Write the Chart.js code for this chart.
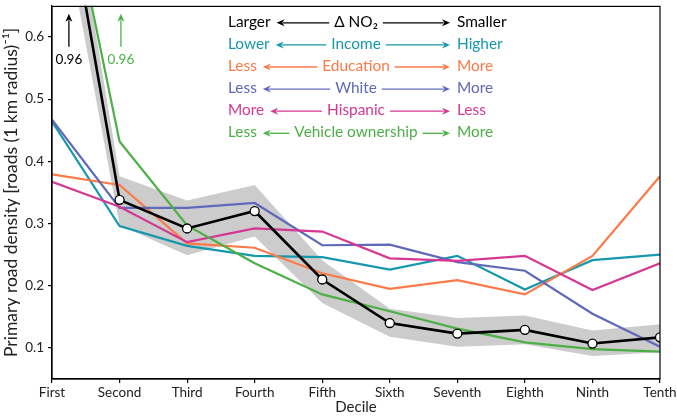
<!DOCTYPE html>
<html>
<head>
<meta charset="utf-8">
<script src="https://cdn.jsdelivr.net/npm/chart.js@4"></script>
<style>
  body { margin: 0; background: #fff; }
  canvas { display: block; }
</style>
</head>
<body>
<canvas id="c" width="677" height="417"></canvas>
<script>
var deciles = ['First', 'Second', 'Third', 'Fourth', 'Fifth', 'Sixth', 'Seventh', 'Eighth', 'Ninth', 'Tenth'];
var yTicks = [0.1, 0.2, 0.3, 0.4, 0.5, 0.6];

// mean density (black) and its confidence band
var meanDensity = [0.96, 0.338, 0.292, 0.320, 0.210, 0.140, 0.123, 0.129, 0.107, 0.117];
var bandLower = [0.88, 0.297, 0.249, 0.279, 0.172, 0.118, 0.102, 0.106, 0.087, 0.093];
var bandUpper = [1.03, 0.376, 0.337, 0.362, 0.241, 0.163, 0.148, 0.152, 0.128, 0.138];

var income = [0.464, 0.296, 0.264, 0.248, 0.246, 0.226, 0.248, 0.194, 0.241, 0.250];
var education = [0.379, 0.362, 0.268, 0.261, 0.220, 0.195, 0.209, 0.186, 0.248, 0.376];
var white = [0.467, 0.325, 0.325, 0.333, 0.265, 0.266, 0.238, 0.224, 0.155, 0.102];
var hispanic = [0.367, 0.327, 0.270, 0.292, 0.287, 0.244, 0.240, 0.248, 0.193, 0.236];
var vehicle = [0.96, 0.432, 0.297, 0.236, 0.186, 0.159, 0.131, 0.109, 0.098, 0.094];

var BLACK = '#000000';
var TEAL = 'rgb(22,152,172)';
var ORANGE = 'rgb(252,122,72)';
var BLUE = 'rgb(96,104,186)';
var PINK = 'rgb(212,56,146)';
var GREEN = 'rgb(76,176,70)';

var legendRows = [
  { left: 'Larger', mid: 'Δ NO₂', right: 'Smaller', color: BLACK },
  { left: 'Lower', mid: 'Income', right: 'Higher', color: TEAL },
  { left: 'Less', mid: 'Education', right: 'More', color: ORANGE },
  { left: 'Less', mid: 'White', right: 'More', color: BLUE },
  { left: 'More', mid: 'Hispanic', right: 'Less', color: PINK },
  { left: 'Less', mid: 'Vehicle ownership', right: 'More', color: GREEN }
];

var FONT = 'Lato, "Open Sans", sans-serif';

function arrow(ctx, x1, y1, x2, y2, color) {
  // line from (x1,y1) to (x2,y2) with head at (x2,y2)
  var ang = Math.atan2(y2 - y1, x2 - x1);
  var hl = 8, hw = 3.5;
  ctx.strokeStyle = color;
  ctx.fillStyle = color;
  ctx.lineWidth = 1.3;
  ctx.beginPath();
  ctx.moveTo(x1, y1);
  ctx.lineTo(x2 - Math.cos(ang) * hl * 0.8, y2 - Math.sin(ang) * hl * 0.8);
  ctx.stroke();
  ctx.beginPath();
  ctx.moveTo(x2, y2);
  ctx.lineTo(x2 - Math.cos(ang) * hl - Math.sin(ang) * hw, y2 - Math.sin(ang) * hl + Math.cos(ang) * hw);
  ctx.lineTo(x2 - Math.cos(ang) * hl * 0.7, y2 - Math.sin(ang) * hl * 0.7);
  ctx.lineTo(x2 - Math.cos(ang) * hl + Math.sin(ang) * hw, y2 - Math.sin(ang) * hl - Math.cos(ang) * hw);
  ctx.closePath();
  ctx.fill();
}

var annotations = {
  id: 'annotations',
  afterDraw: function(chart) {
    var ctx = chart.ctx;
    var a = chart.chartArea;
    var xs = chart.scales.x;
    var step = xs.getPixelForValue(1) - xs.getPixelForValue(0);
    ctx.save();

    // frame
    ctx.strokeStyle = '#000';
    ctx.lineWidth = 1.2;
    ctx.strokeRect(a.left, a.top + 0.6, a.right - a.left, a.bottom - a.top - 0.6);

    // off-scale markers
    var offs = [{ pos: 0.25, color: BLACK }, { pos: 1.02, color: GREEN }];
    ctx.font = '13.5px ' + FONT;
    ctx.textAlign = 'center';
    ctx.textBaseline = 'middle';
    offs.forEach(function(o) {
      var x = xs.getPixelForValue(0) + o.pos * step;
      arrow(ctx, x, a.top + 41, x, a.top + 8, o.color);
      ctx.fillStyle = o.color;
      ctx.fillText('0.96', x, a.top + 54);
    });

    // text legend with arrows
    var leftX = a.left + 176, midX = a.left + 304, rightX = a.left + 405;
    ctx.font = '15.4px ' + FONT;
    legendRows.forEach(function(r, i) {
      var y = a.top + 16 + i * 22.1;
      ctx.fillStyle = r.color;
      ctx.textAlign = 'left';
      ctx.fillText(r.left, leftX, y);
      ctx.fillText(r.right, rightX, y);
      ctx.textAlign = 'center';
      ctx.fillText(r.mid, midX, y);
      var lw = ctx.measureText(r.left).width;
      var mw = ctx.measureText(r.mid).width;
      arrow(ctx, midX - mw / 2 - 5, y + 1, leftX + lw + 6, y + 1, r.color);
      arrow(ctx, midX + mw / 2 + 5, y + 1, rightX - 7, y + 1, r.color);
    });
    ctx.restore();
  }
};

function line(data, color, width) {
  return {
    data: data,
    borderColor: color,
    backgroundColor: color,
    borderWidth: width,
    pointRadius: 0,
    fill: false,
    tension: 0,
    clip: 0
  };
}

var meanSet = line(meanDensity, BLACK, 2.6);
meanSet.pointRadius = meanDensity.map(function(v, i) { return i === 0 ? 0 : 4.5; });
meanSet.pointBackgroundColor = '#fff';
meanSet.pointBorderColor = '#000';
meanSet.pointBorderWidth = 1.3;

var lowerSet = line(bandLower, 'rgba(0,0,0,0)', 0);
var upperSet = line(bandUpper, 'rgba(0,0,0,0)', 0);
upperSet.fill = 7;
upperSet.backgroundColor = 'rgb(204,204,204)';

new Chart(document.getElementById('c'), {
  type: 'line',
  data: {
    labels: deciles,
    datasets: [
      meanSet,
      line(vehicle, GREEN, 2.2),
      line(hispanic, PINK, 2.2),
      line(white, BLUE, 2.2),
      line(education, ORANGE, 2.2),
      line(income, TEAL, 2.2),
      upperSet,
      lowerSet
    ]
  },
  options: {
    responsive: false,
    animation: false,
    devicePixelRatio: 1,
    layout: { padding: { top: 0, right: 17, left: 0, bottom: 0 } },
    plugins: { legend: { display: false }, tooltip: { enabled: false } },
    scales: {
      x: {
        type: 'category',
        offset: false,
        grid: { display: true, drawOnChartArea: false, drawTicks: true, tickLength: 4, color: '#000', lineWidth: 1.2 },
        border: { display: true, color: '#000', width: 1.2 },
        ticks: { color: '#222', font: { family: FONT, size: 13.5 }, padding: 2, maxRotation: 0, autoSkip: false },
        title: { display: true, text: 'Decile', color: '#222', font: { family: FONT, size: 15 }, padding: { top: 0, bottom: 1 } },
        afterFit: function(s) { s.height = 38; s.paddingLeft = 0; s.paddingRight = 0; }
      },
      y: {
        min: 0.05,
        max: 0.65,
        afterBuildTicks: function(s) { s.ticks = yTicks.map(function(v) { return { value: v }; }); },
        grid: { display: true, drawOnChartArea: false, drawTicks: true, tickLength: 4, color: '#000', lineWidth: 1.2 },
        border: { display: true, color: '#000', width: 1.2 },
        ticks: { color: '#222', font: { family: FONT, size: 13.5 }, padding: 4, callback: function(v) { return v.toFixed(1); } },
        title: { display: true, text: 'Primary road density [roads (1 km radius)⁻¹]', color: '#222', font: { family: FONT, size: 17.5 }, padding: { top: 1, bottom: 0 } },
        afterFit: function(s) { s.width = 52; s.paddingTop = 0; s.paddingBottom = 0; }
      }
    }
  },
  plugins: [annotations]
});
</script>
</body>
</html>
